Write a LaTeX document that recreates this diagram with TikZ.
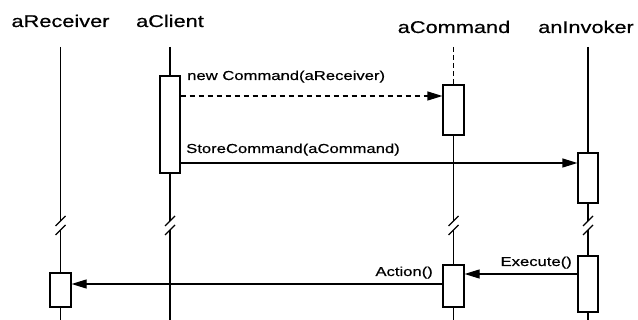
\documentclass[tikz,border=0pt]{standalone}
\usepackage{fontspec}
\setmainfont{Liberation Sans}[FakeStretch=1.28,FakeBold=0.5]
\usetikzlibrary{arrows.meta}

\begin{document}
\begin{tikzpicture}[x=1pt,y=-1pt,>={Triangle[length=15pt,width=9pt]},
  role/.style={anchor=base,inner sep=0pt,font=\fontsize{17}{20}\selectfont},
  msg/.style={inner sep=0pt,font=\fontsize{13}{15}\selectfont},
  life/.style={line width=1.2pt},
  act/.style={draw,fill=white,line width=1.2pt,inner sep=0pt,minimum width=20pt}]
\useasboundingbox (0,0) rectangle (638,320);
% objects
\node[role] (trcv) at (60.5,27) {aReceiver};
\node[role] (tcl) at (170,27) {aClient};
\node[role] (tcmd) at (454,33) {aCommand};
\node[role] (tinv) at (586,33) {anInvoker};
\foreach \n/\x in {rcv/60.5,cl/170,cmd/453.5,inv/588}{
  \coordinate (\n-top) at (\x,47);
  \coordinate (\n-b1) at (\x,221);
  \coordinate (\n-b2) at (\x,230);
  \coordinate (\n-end) at (\x,320);
}
% activations
\node[act,minimum height=97pt] (clbox) at (170,124.5) {};
\node[act,minimum height=50pt,minimum width=21pt] (cmda) at (453.5,110) {};
\node[act,minimum height=50pt] (inva) at (588,178) {};
\node[act,minimum height=34pt,minimum width=21pt] (rcvbox) at (60.5,290) {};
\node[act,minimum height=42pt,minimum width=21pt] (cmdb) at (453.5,286) {};
\node[act,minimum height=56pt] (invb) at (588,284) {};
% lifelines
\draw[life] (rcv-top) -- (rcv-b1) (rcv-b2) -- (rcvbox.north) (rcvbox.south) -- (rcv-end);
\draw[life] (cl-top) -- (clbox.north) (clbox.south) -- (cl-b1) (cl-b2) -- (cl-end);
\draw[life,dash pattern=on 5pt off 3pt] (cmd-top) -- (cmda.north);
\draw[life] (cmda.south) -- (cmd-b1) (cmd-b2) -- (cmdb.north) (cmdb.south) -- (cmd-end);
\draw[life] (inv-top) -- (inva.north) (inva.south) -- (inv-b1) (inv-b2) -- (invb.north) (invb.south) -- (inv-end);
\foreach \x in {60.5,170,453.5,588}
  \draw[life] (\x-5,226) -- (\x+5,216) (\x-5,235) -- (\x+5,225);
% messages
\coordinate (m1) at (0,96);
\coordinate (m2) at (0,163);
\coordinate (m3) at (0,274);
\coordinate (m4) at (0,284);
\draw[life,->,dash pattern=on 5pt off 4pt] (clbox.east |- m1) -- (cmda.west |- m1);
\draw[life,->] (clbox.east |- m2) -- (inva.west |- m2);
\draw[life,->] (invb.west |- m3) -- (cmdb.east |- m3);
\draw[life,->] (cmdb.west |- m4) -- (rcvbox.east |- m4);
\node[msg,anchor=base west] (lnew) at (187,80) {new Command(aReceiver)};
\node[msg,anchor=base west] (lstore) at (186,153) {StoreCommand(aCommand)};
\node[msg,anchor=base east] (lexec) at (572,266) {Execute()};
\node[msg,anchor=base east] (lact) at (433,276) {Action()};
\end{tikzpicture}
\end{document}
